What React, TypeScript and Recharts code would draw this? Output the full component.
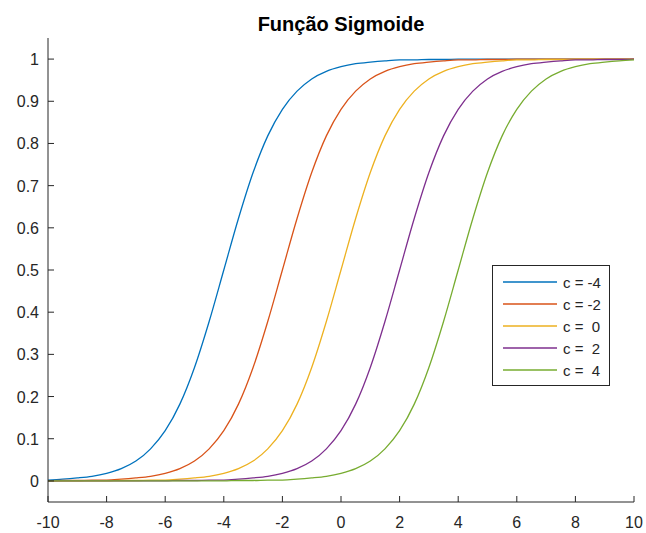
import { LineChart, Line, XAxis, YAxis, Legend } from 'recharts';

// x samples, every 0.5 from -10 to 10
const xs = [
  -10, -9.5, -9, -8.5, -8, -7.5, -7, -6.5, -6, -5.5, -5, -4.5, -4, -3.5, -3, -2.5, -2, -1.5, -1, -0.5,
  0, 0.5, 1, 1.5, 2, 2.5, 3, 3.5, 4, 4.5, 5, 5.5, 6, 6.5, 7, 7.5, 8, 8.5, 9, 9.5, 10,
];

// values
const cMinus4 = [
  0.002, 0.004, 0.007, 0.011, 0.018, 0.029, 0.047, 0.076, 0.119, 0.182, 0.269, 0.378, 0.5, 0.622, 0.731,
  0.818, 0.881, 0.924, 0.953, 0.971, 0.982, 0.989, 0.993, 0.996, 0.998, 0.998, 0.999, 0.999, 1, 1,
  1, 1, 1, 1, 1, 1, 1, 1, 1, 1, 1,
];
const cMinus2 = [
  0, 0.001, 0.001, 0.002, 0.002, 0.004, 0.007, 0.011, 0.018, 0.029, 0.047, 0.076, 0.119, 0.182, 0.269,
  0.378, 0.5, 0.622, 0.731, 0.818, 0.881, 0.924, 0.953, 0.971, 0.982, 0.989, 0.993, 0.996, 0.998, 0.998,
  0.999, 0.999, 1, 1, 1, 1, 1, 1, 1, 1, 1,
];
const cZero = [
  0, 0, 0, 0, 0, 0.001, 0.001, 0.002, 0.002, 0.004, 0.007, 0.011, 0.018, 0.029, 0.047, 0.076, 0.119,
  0.182, 0.269, 0.378, 0.5, 0.622, 0.731, 0.818, 0.881, 0.924, 0.953, 0.971, 0.982, 0.989, 0.993, 0.996,
  0.998, 0.998, 0.999, 0.999, 1, 1, 1, 1, 1,
];
const cPlus2 = [
  0, 0, 0, 0, 0, 0, 0, 0, 0, 0.001, 0.001, 0.002, 0.002, 0.004, 0.007, 0.011, 0.018, 0.029, 0.047, 0.076,
  0.119, 0.182, 0.269, 0.378, 0.5, 0.622, 0.731, 0.818, 0.881, 0.924, 0.953, 0.971, 0.982, 0.989, 0.993,
  0.996, 0.998, 0.998, 0.999, 0.999, 1,
];
const cPlus4 = [
  0, 0, 0, 0, 0, 0, 0, 0, 0, 0, 0, 0, 0, 0.001, 0.001, 0.002, 0.002, 0.004, 0.007, 0.011, 0.018, 0.029,
  0.047, 0.076, 0.119, 0.182, 0.269, 0.378, 0.5, 0.622, 0.731, 0.818, 0.881, 0.924, 0.953, 0.971, 0.982,
  0.989, 0.993, 0.996, 0.998,
];

const seriesNames = ['c = -4', 'c = -2', 'c =  0', 'c =  2', 'c =  4'];
const seriesValues = [cMinus4, cMinus2, cZero, cPlus2, cPlus4];
const seriesColors = ['#0072BD', '#D95319', '#EDB120', '#7E2F8E', '#77AC30'];

const xTicks = [-10, -8, -6, -4, -2, 0, 2, 4, 6, 8, 10];
const yTicks = [0, 0.1, 0.2, 0.3, 0.4, 0.5, 0.6, 0.7, 0.8, 0.9, 1];

const data = xs.map((x, i) => {
  const row: Record<string, number> = { x };
  seriesValues.forEach((vals, s) => {
    row[`s${s}`] = vals[i];
  });
  return row;
});

const FONT = '"Liberation Sans", Arial, Helvetica, sans-serif';
const INK = '#262626';

function XTick({ x, y, payload }: any) {
  return (
    <g>
      <line x1={x} y1={y} x2={x} y2={y - 6} stroke={INK} strokeWidth={1} />
      <text x={x} y={y + 26} textAnchor="middle" fontFamily={FONT} fontSize={16} fill={INK}>
        {payload.value}
      </text>
    </g>
  );
}

function YTick({ x, y, payload }: any) {
  return (
    <g>
      <line x1={x} y1={y} x2={x + 6} y2={y} stroke={INK} strokeWidth={1} />
      <text x={x - 9} y={y + 6} textAnchor="end" fontFamily={FONT} fontSize={16} fill={INK}>
        {payload.value}
      </text>
    </g>
  );
}

function LegendBox({ payload }: any) {
  // keep the plotting order, not the legend's default sort
  const items = [...(payload || [])].sort(
    (a: any, b: any) => seriesNames.indexOf(a.value) - seriesNames.indexOf(b.value),
  );
  return (
    <div
      style={{
        border: `1px solid ${INK}`,
        background: '#fff',
        padding: '5px 0 4px 0',
        boxSizing: 'border-box',
        width: 118,
      }}
    >
      {items.map((p: any) => (
        <div key={p.value} style={{ display: 'flex', alignItems: 'center', height: 22 }}>
          <svg width={70} height={22} style={{ display: 'block' }}>
            <line x1={10} y1={11} x2={64} y2={11} stroke={p.color} strokeWidth={1.3} />
          </svg>
          <span style={{ fontFamily: FONT, fontSize: 15, color: INK, whiteSpace: 'pre' }}>{p.value}</span>
        </div>
      ))}
    </div>
  );
}

export default function App() {
  return (
    <div style={{ position: 'absolute', left: 0, top: 0, width: 646, height: 533, background: '#fff' }}>
      <div
        style={{
          position: 'absolute',
          left: 48,
          width: 586,
          top: 13,
          lineHeight: '23px',
          textAlign: 'center',
          fontFamily: FONT,
          fontWeight: 'bold',
          fontSize: 20,
          color: '#000',
        }}
      >
        Função Sigmoide
      </div>
      <LineChart width={646} height={533} data={data} margin={{ top: 38, right: 12, bottom: 0, left: 0 }}>
        <XAxis
          type="number"
          dataKey="x"
          domain={[-10, 10]}
          ticks={xTicks}
          interval={0}
          height={31}
          tickSize={0}
          tickMargin={0}
          tickLine={false}
          axisLine={{ stroke: INK, strokeWidth: 1 }}
          tick={<XTick />}
        />
        <YAxis
          type="number"
          domain={[-0.05, 1.05]}
          ticks={yTicks}
          interval={0}
          width={48}
          allowDataOverflow
          tickSize={0}
          tickMargin={0}
          tickLine={false}
          axisLine={{ stroke: INK, strokeWidth: 1 }}
          tick={<YTick />}
        />
        <Legend
          layout="horizontal"
          verticalAlign="middle"
          align="center"
          content={<LegendBox />}
          wrapperStyle={{ position: 'absolute', left: 492, top: 265, width: 118, height: 'auto' }}
        />
        {seriesNames.map((name, s) => (
          <Line
            key={name}
            type="monotone"
            dataKey={`s${s}`}
            name={name}
            stroke={seriesColors[s]}
            strokeWidth={1.3}
            dot={false}
            activeDot={false}
            isAnimationActive={false}
          />
        ))}
      </LineChart>
    </div>
  );
}
